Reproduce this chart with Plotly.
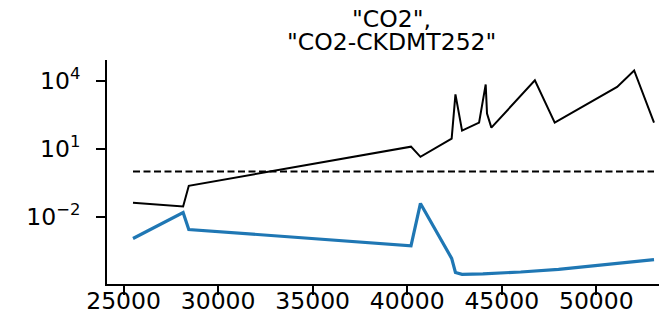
import plotly.graph_objects as go

# black series
x_black = [25500, 28150, 28450, 40200, 40700, 42350, 42550, 42900, 43800,
           44150, 44220, 44450, 46750, 47800, 51100, 52000, 53050]
y_black = [0.0417, 0.0288, 0.234, 12.6, 4.47, 28.8, 2570, 64.6, 145,
           7080, 363, 87, 10700, 145, 5500, 29500, 145]

# blue series
x_blue = [25500, 28150, 28450, 40200, 40700, 42350, 42550, 42900, 44000,
          46000, 48000, 50000, 52000, 53050]
y_blue = [0.0011, 0.0155, 0.00275, 0.000525, 0.0389, 0.000145, 3.47e-5,
          2.88e-5, 3.02e-5, 3.63e-5, 4.79e-5, 7.08e-5, 1.05e-4, 1.29e-4]

# dashed reference line
x_ref = [25500, 53050]
y_ref = [1.0, 1.0]

x_ticks = [25000, 30000, 35000, 40000, 45000, 50000]
y_ticks = [1e-2, 1e1, 1e4]
y_ticktext = ["10<sup>−2</sup>", "10<sup>1</sup>", "10<sup>4</sup>"]
title_lines = ['"CO2",', '"CO2-CKDMT252"']

fig = go.Figure()
fig.add_trace(go.Scatter(x=x_black, y=y_black, mode="lines",
                         line=dict(color="black", width=2), showlegend=False))
fig.add_trace(go.Scatter(x=x_ref, y=y_ref, mode="lines",
                         line=dict(color="black", width=2, dash="7px,3.5px"),
                         showlegend=False))
fig.add_trace(go.Scatter(x=x_blue, y=y_blue, mode="lines",
                         line=dict(color="#1f77b4", width=3.2), showlegend=False))

font = dict(family="DejaVu Sans", size=23.5, color="black")
fig.update_layout(
    width=667, height=318,
    margin=dict(l=99, r=0, t=52, b=42),
    plot_bgcolor="white", paper_bgcolor="white",
    font=font,
    xaxis=dict(range=[24125, 54160], tickvals=x_ticks, tickformat="d",
               showgrid=False, zeroline=False, showline=True,
               linecolor="black", linewidth=1.8, ticks="outside",
               ticklen=9, tickwidth=1.8, tickcolor="black",
               tickfont=font, ticklabelstandoff=-14),
    yaxis=dict(type="log", range=[-4.97, 4.93], tickvals=y_ticks,
               ticktext=y_ticktext, showgrid=False, zeroline=False,
               showline=True, linecolor="black", linewidth=1.8,
               ticks="outside", ticklen=9, tickwidth=1.8, tickcolor="black",
               tickfont=font, ticklabelstandoff=11),
    annotations=[
        dict(text=title_lines[0], xref="paper", yref="paper", x=0.5, y=1,
             xanchor="center", yanchor="bottom", yshift=25,
             showarrow=False, font=font),
        dict(text=title_lines[1], xref="paper", yref="paper", x=0.5, y=1,
             xanchor="center", yanchor="bottom", yshift=2,
             showarrow=False, font=font),
    ],
)

fig.write_html("out.html")
